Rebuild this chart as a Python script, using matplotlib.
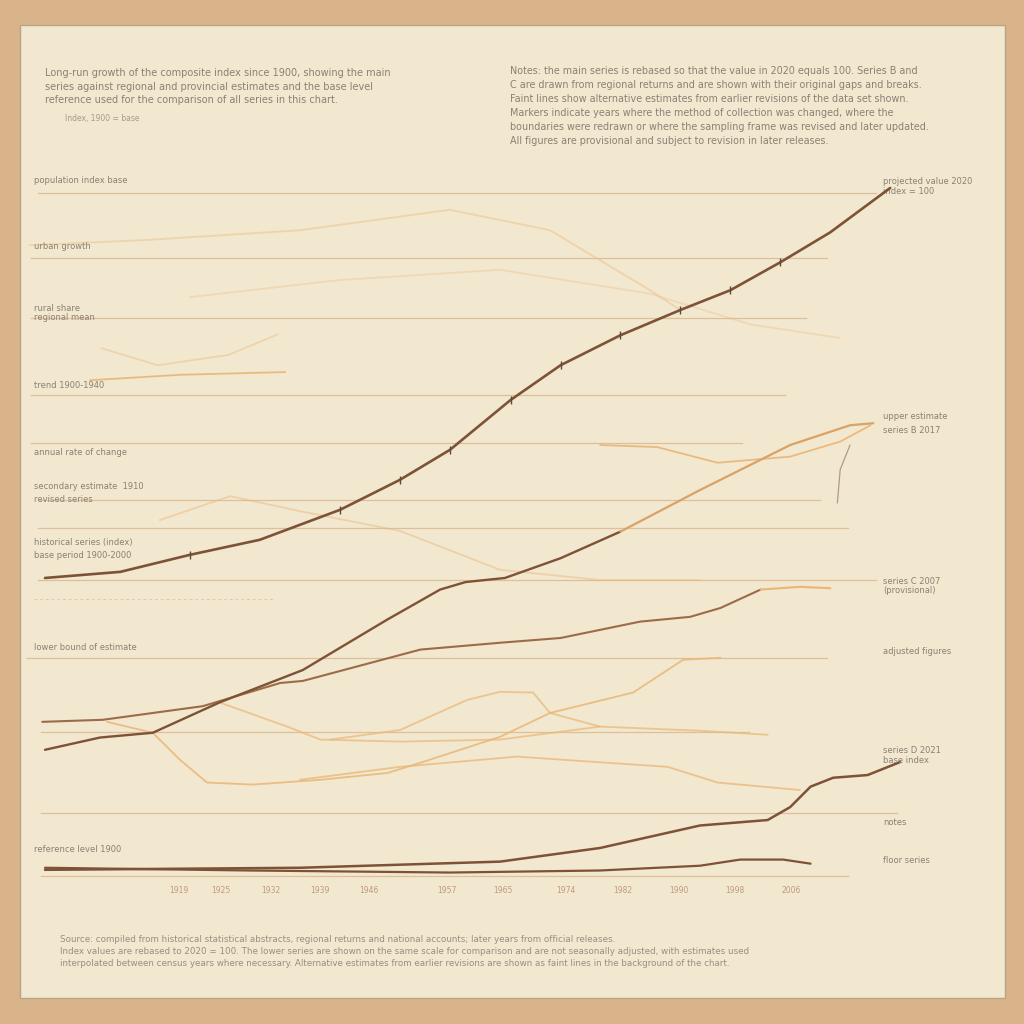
import numpy as np
import matplotlib.pyplot as plt
from matplotlib.patches import Rectangle

# ---- data (years vs. index value) ----
years_main = [1900, 1910.7, 1920.6, 1930.5, 1941.9, 1950.4, 1957.5, 1966.1,
              1973.2, 1981.7, 1990.2, 1997.3, 2004.4, 2011.5, 2020]
vals_main = [42.8, 43.7, 46.2, 48.4, 52.8, 57.2, 61.6, 68.9,
             74.0, 78.4, 82.1, 85.0, 89.1, 93.5, 100]

# series B (brown part, then paler recent part)
years_b = [1900, 1907.8, 1915.3, 1924.9, 1936.6, 1948.6, 1956.1, 1959.7,
           1965.3, 1973.2, 1981.7]
vals_b = [17.6, 19.4, 20.1, 24.6, 29.3, 36.7, 41.1, 42.2, 42.8, 45.7, 49.6]
years_b_recent = [1981.7, 1993.0, 2005.8, 2014.3, 2017.6]
vals_b_recent = [49.6, 55.7, 62.3, 65.2, 65.5]

# series C
years_c = [1899.6, 1908.2, 1922.4, 1933.4, 1936.6, 1953.3, 1964.6, 1973.2,
           1984.5, 1991.6, 1995.9, 2001.6]
vals_c = [21.7, 22.0, 24.0, 27.4, 27.7, 32.3, 33.3, 34.0, 36.4, 37.1, 38.4, 41.1]
years_c_recent = [2001.6, 2007.2, 2011.5]
vals_c_recent = [41.1, 41.5, 41.3]

# series D and floor series
years_d = [1900, 1936.2, 1964.6, 1978.8, 1993.0, 2002.6, 2005.8, 2008.7,
           2011.9, 2016.8, 2021.4]
vals_d = [0.0, 0.3, 1.2, 3.2, 6.5, 7.3, 9.2, 12.2, 13.5, 13.9, 15.8]
years_floor = [1900, 1929.1, 1957.5, 1978.8, 1993.0, 1998.7, 2004.8, 2008.7]
vals_floor = [0.3, -0.1, -0.4, -0.1, 0.6, 1.5, 1.5, 0.9]

# faint alternative estimates
years_o1 = [1908.8, 1915.3, 1919.2, 1923.0, 1929.5, 1939.1, 1948.6, 1953.3,
            1964.6, 1971.7, 1983.5, 1990.6, 1995.9]
vals_o1 = [21.7, 20.1, 16.1, 12.8, 12.5, 13.2, 14.2, 15.7, 19.5, 23.0, 26.0, 30.8, 31.1]
years_o2 = [1924.9, 1934.4, 1939.1, 1950.4, 1964.6, 1978.8, 1993.0, 2002.6]
vals_o2 = [24.5, 21.0, 19.1, 18.8, 19.1, 21.0, 20.4, 19.8]
years_o3 = [1940.5, 1950.4, 1959.9, 1964.6, 1969.3, 1971.7, 1978.8]
vals_o3 = [19.1, 20.5, 24.9, 26.1, 26.0, 23.0, 21.0]
years_o4 = [1936.2, 1950.4, 1967.0, 1988.4, 1995.5, 2007.2]
vals_o4 = [13.2, 15.1, 16.6, 15.1, 12.8, 11.7]
years_o5 = [1978.8, 1986.9, 1995.5, 2005.8, 2012.9, 2017.2]
vals_o5 = [62.3, 62.0, 59.7, 60.6, 62.8, 65.2]
years_stem = [2014.3, 2012.9, 2012.5]
vals_stem = [62.3, 58.7, 53.8]
years_o6 = [1897.8, 1914.9, 1936.2, 1957.5, 1971.7, 1985.9, 1990.2]
vals_o6 = [91.6, 92.4, 93.8, 96.8, 93.8, 85.0, 82.1]
years_o7 = [1920.6, 1941.9, 1964.6, 1985.9, 2000.1, 2012.8]
vals_o7 = [84.0, 86.5, 88.0, 84.5, 80.0, 78.0]
years_o8 = [1906.4, 1919.2, 1934.1]
vals_o8 = [71.8, 72.6, 73.0]
years_o9 = [1908.0, 1916.0, 1926.0, 1933.0]
vals_o9 = [76.5, 74.0, 75.5, 78.5]
years_o10 = [1916.3, 1926.3, 1936.2, 1950.4, 1964.6, 1978.8, 1993.0]
vals_o10 = [51.3, 54.8, 52.6, 49.7, 44.0, 42.5, 42.5]

grid_vals = [99.3, 89.7, 80.9, 69.6, 62.6, 54.3, 50.1, 42.5, 31.1, 20.2, 8.4, -0.9]
grid_start = [1899, 1898, 1898, 1898, 1898, 1899, 1899, 1899, 1897.5, 1899.5, 1899.5, 1899.5]
grid_end = [2018, 2011, 2008, 2005, 1999, 2010, 2014, 2018, 2011, 2000, 2021, 2014]

tick_years = [1919, 1925, 1932, 1939, 1946, 1957, 1965, 1974, 1982, 1990, 1998, 2006]
tick_labels = ["1919", "1925", "1932", "1939", "1946", "1957", "1965",
               "1974", "1982", "1990", "1998", "2006"]

left_labels = [(99.7, "population index base"), (90.0, "urban growth"),
               (80.9, "rural share"), (79.6, "regional mean"),
               (69.6, "trend 1900-1940"), (59.8, "annual rate of change"),
               (54.8, "secondary estimate  1910"), (52.8, "revised series"),
               (46.5, "historical series (index)"), (44.6, "base period 1900-2000"),
               (31.1, "lower bound of estimate"), (1.5, "reference level 1900")]
right_labels = [(101.0, "projected value 2020"), (99.5, "index = 100"),
                (66.5, "upper estimate"), (64.5, "series B 2017"),
                (42.3, "series C 2007"), (41.0, "(provisional)"),
                (32.0, "adjusted figures"), (17.5, "series D 2021"),
                (16.0, "base index"), (7.0, "notes"), (1.3, "floor series")]

top_left_text = ("Long-run growth of the composite index since 1900, showing the main\n"
                 "series against regional and provincial estimates and the base level\n"
                 "reference used for the comparison of all series in this chart.")
top_right_text = ("Notes: the main series is rebased so that the value in 2020 equals 100. Series B and\n"
                  "C are drawn from regional returns and are shown with their original gaps and breaks.\n"
                  "Faint lines show alternative estimates from earlier revisions of the data set shown.\n"
                  "Markers indicate years where the method of collection was changed, where the\n"
                  "boundaries were redrawn or where the sampling frame was revised and later updated.\n"
                  "All figures are provisional and subject to revision in later releases.")
bottom_text = ("Source: compiled from historical statistical abstracts, regional returns and national accounts; later years from official releases.\n"
               "Index values are rebased to 2020 = 100. The lower series are shown on the same scale for comparison and are not seasonally adjusted, with estimates used\n"
               "interpolated between census years where necessary. Alternative estimates from earlier revisions are shown as faint lines in the background of the chart.")

BG_OUT = "#d9b38a"
BG_IN = "#f2e7cf"
BROWN = "#7e5236"
BROWN2 = "#9c6c48"
ORANGE = "#e9b676"
GRID = "#dcc09a"
TXT = "#8c8074"

fig = plt.figure(figsize=(10.24, 10.24), dpi=100)
fig.patch.set_facecolor(BG_OUT)
fig.patches.append(Rectangle((20 / 1024, 26 / 1024), 985 / 1024, 973 / 1024,
                             transform=fig.transFigure, facecolor=BG_IN,
                             edgecolor="#b7a48c", linewidth=1.0, zorder=-5))

ax = fig.add_axes([20 / 1024, 26 / 1024, 985 / 1024, 973 / 1024])
ax.set_facecolor("none")
ax.set_xlim(1896.45, 2036.3)
ax.set_ylim(-18.8, 123.9)
for s in ax.spines.values():
    s.set_visible(False)
ax.set_xticks([])
ax.set_yticks([])

line_kw = dict(solid_joinstyle="round", solid_capstyle="round")

# grid lines
for gv, g0, g1 in zip(grid_vals, grid_start, grid_end):
    ax.plot([g0, g1], [gv, gv], color=GRID, lw=0.9, zorder=1)

# faint background estimates
for xs, ys, a in [(years_o1, vals_o1, 0.85), (years_o2, vals_o2, 0.7),
                  (years_o3, vals_o3, 0.7), (years_o4, vals_o4, 0.75),
                  (years_o5, vals_o5, 0.9), (years_o6, vals_o6, 0.4),
                  (years_o7, vals_o7, 0.3), (years_o8, vals_o8, 0.9),
                  (years_o9, vals_o9, 0.4), (years_o10, vals_o10, 0.45)]:
    ax.plot(xs, ys, color=ORANGE, lw=1.3, alpha=a, zorder=2, **line_kw)
ax.plot(years_stem, vals_stem, color="#b09a88", lw=0.9, zorder=2, **line_kw)

# main series
ax.plot(years_c, vals_c, color=BROWN2, lw=1.5, zorder=3, **line_kw)
ax.plot(years_c_recent, vals_c_recent, color=ORANGE, lw=1.5, zorder=3, **line_kw)
ax.plot(years_b, vals_b, color=BROWN, lw=1.7, zorder=3, **line_kw)
ax.plot(years_b_recent, vals_b_recent, color="#d9a266", lw=1.6, zorder=3, **line_kw)
ax.plot(years_d, vals_d, color=BROWN, lw=1.8, zorder=3, **line_kw)
ax.plot(years_floor, vals_floor, color=BROWN, lw=1.6, zorder=3, **line_kw)
ax.plot(years_main, vals_main, color=BROWN, lw=1.9, zorder=4,
        marker="|", markersize=6, markeredgecolor="#5a4a40",
        markevery=[2, 4, 5, 6, 7, 8, 9, 10, 11, 12], **line_kw)

# axis-like tick labels row
for ty, tl in zip(tick_years, tick_labels):
    ax.text(ty, -3.0, tl, fontsize=5.5, color="#c09a80", ha="center", va="center")

# labels
for yv, lab in left_labels:
    ax.text(1898.5, yv + 0.8, lab, fontsize=6, color=TXT, ha="left", va="bottom")
for yv, lab in right_labels:
    ax.text(2019.0, yv, lab, fontsize=6, color=TXT, ha="left", va="center")
ax.text(1898.5, 39.7, "– " * 42, fontsize=5, color="#e0a090", ha="left", va="center")

fig.text(45 / 1024, 1 - 68 / 1024, top_left_text, fontsize=7, color=TXT,
         ha="left", va="top", linespacing=1.45)
fig.text(65 / 1024, 1 - 118 / 1024, "Index, 1900 = base", fontsize=5.5,
         color="#a89a8c", ha="left", va="center")
fig.text(510 / 1024, 1 - 66 / 1024, top_right_text, fontsize=6.9, color=TXT,
         ha="left", va="top", linespacing=1.5)
fig.text(60 / 1024, 1 - 935 / 1024, bottom_text, fontsize=6.3, color="#9a8e82",
         ha="left", va="top", linespacing=1.45)

fig.savefig("out.png", dpi=100, facecolor=fig.get_facecolor())
